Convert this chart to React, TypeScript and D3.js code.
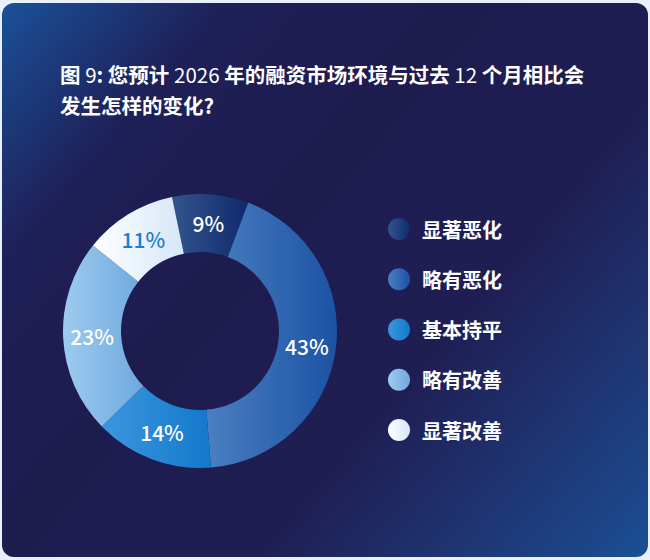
import React from 'react';
import * as d3 from 'd3';

const categories = ['显著恶化', '略有恶化', '基本持平', '略有改善', '显著改善'];
const values = [9, 43, 14, 23, 11];
const labels = ['9%', '43%', '14%', '23%', '11%'];
const colorsLight = ['#33548d', '#4b7fc2', '#3c96dd', '#9ecaef', '#ffffff'];
const colorsDark = ['#0f2a6b', '#1b52a3', '#1379cd', '#6da9de', '#d6e7f7'];
const labelColors = ['#ffffff', '#ffffff', '#ffffff', '#ffffff', '#1c7fcf'];

const W = 650;
const H = 560;
const FONT = '"Noto Sans CJK SC", "Noto Sans", sans-serif';

export default function App() {
  const cx = 200;
  const cy = 331;
  const outerR = 137;
  const innerR = 79;
  const start = (-11.8 * Math.PI) / 180;

  const pie = d3
    .pie<number>()
    .sort(null)
    .startAngle(start)
    .endAngle(start + Math.PI * 2)
    .value((d) => d);
  const arcs = pie(values);
  const arcGen = d3.arc<d3.PieArcDatum<number>>().innerRadius(innerR).outerRadius(outerR);
  const labelArc = d3
    .arc<d3.PieArcDatum<number>>()
    .innerRadius((innerR + outerR) / 2)
    .outerRadius((innerR + outerR) / 2);

  const legendY = d3.scalePoint<string>().domain(categories).range([229, 430]);

  return (
    <svg
      width={W}
      height={H}
      viewBox={`0 0 ${W} ${H}`}
      style={{ position: 'absolute', left: 0, top: 0, display: 'block' }}
    >
      <defs>
        <linearGradient id="bg" gradientUnits="userSpaceOnUse" x1={2} y1={3} x2={648} y2={557}>
          <stop offset="0" stopColor="#1a5199" />
          <stop offset="0.2" stopColor="#1e2058" />
          <stop offset="0.4" stopColor="#1e1b4f" />
          <stop offset="0.65" stopColor="#1f1e53" />
          <stop offset="0.86" stopColor="#1e3a79" />
          <stop offset="1" stopColor="#1a4f95" />
        </linearGradient>
        {categories.map((c, i) => (
          <linearGradient key={c} id={`g${i}`} x1="0" y1="0" x2="1" y2="0">
            <stop offset="0" stopColor={colorsLight[i]} />
            <stop offset="1" stopColor={colorsDark[i]} />
          </linearGradient>
        ))}
      </defs>
      <rect x={0} y={0} width={W} height={H} fill="#e8f1fb" />
      <rect x={2} y={3} width={646} height={554} rx={12} fill="url(#bg)" />

      <text x={60} y={83} fill="#ffffff" fontFamily={FONT} fontSize={20.5} fontWeight={700}>
        <tspan>图 </tspan>
        <tspan fontWeight={400}>9</tspan>
        <tspan>: 您预计 </tspan>
        <tspan fontWeight={400}>2026</tspan>
        <tspan> 年的融资市场环境与过去 </tspan>
        <tspan fontWeight={400}>12</tspan>
        <tspan> 个月相比会</tspan>
      </text>
      <text x={60} y={114} fill="#ffffff" fontFamily={FONT} fontSize={20.5} fontWeight={700}>
        发生怎样的变化?
      </text>

      <g transform={`translate(${cx},${cy})`}>
        {arcs.map((a, i) => (
          <path key={i} d={arcGen(a) || ''} fill={`url(#g${i})`} />
        ))}
        {arcs.map((a, i) => {
          const [lx, ly] = labelArc.centroid(a);
          return (
            <text
              key={`l${i}`}
              x={lx}
              y={ly}
              textAnchor="middle"
              dominantBaseline="central"
              fill={labelColors[i]}
              fontFamily={FONT}
              fontSize={21}
              fontWeight={500}
            >
              {labels[i]}
            </text>
          );
        })}
      </g>

      {categories.map((c, i) => (
        <g key={c} transform={`translate(0,${legendY(c)})`}>
          <circle cx={399} cy={0} r={11} fill={`url(#g${i})`} />
          <text
            x={422}
            y={0}
            dominantBaseline="central"
            fill="#ffffff"
            fontFamily={FONT}
            fontSize={20}
            fontWeight={700}
          >
            {c}
          </text>
        </g>
      ))}
    </svg>
  );
}
